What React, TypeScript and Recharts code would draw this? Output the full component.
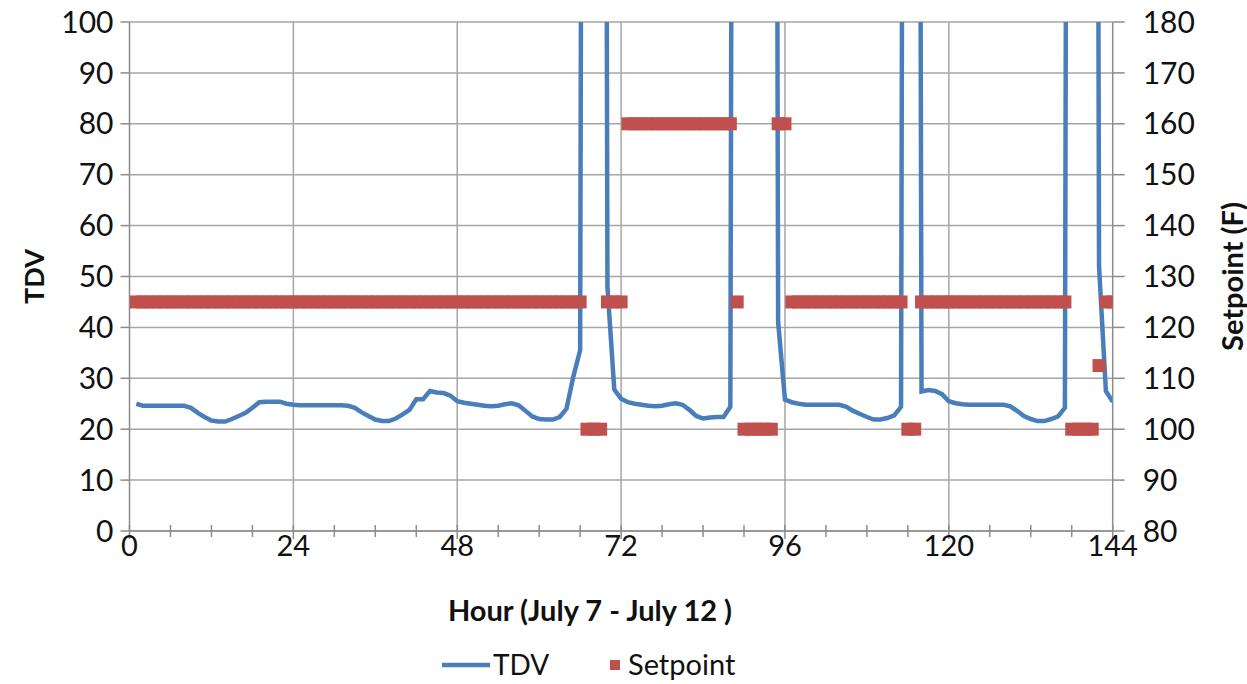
import {
  ComposedChart,
  Line,
  Scatter,
  XAxis,
  YAxis,
  CartesianGrid,
  ReferenceLine,
  Legend,
  Label,
} from 'recharts';

// hour ticks on the x axis (every 6 h, labels every 24 h)
const hourTicks = [0, 6, 12, 18, 24, 30, 36, 42, 48, 54, 60, 66, 72, 78, 84, 90, 96, 102, 108, 114, 120, 126, 132, 138, 144];
const hourGrid = [24, 48, 72, 96, 120];
const tdvTicks = [0, 10, 20, 30, 40, 50, 60, 70, 80, 90, 100];
const setpointTicks = [80, 90, 100, 110, 120, 130, 140, 150, 160, 170, 180];

// TDV, hour 1..144 (spikes go far off the top of the chart)
const tdv = [
  25.0, 24.6, 24.6, 24.6, 24.6, 24.6, 24.6, 24.6, 24.2, 23.2, 22.4, 21.7,
  21.5, 21.5, 22.0, 22.6, 23.2, 24.2, 25.3, 25.4, 25.4, 25.4, 25.0, 24.8,
  24.7, 24.7, 24.7, 24.7, 24.7, 24.7, 24.7, 24.6, 24.2, 23.3, 22.6, 21.9,
  21.6, 21.6, 22.1, 22.9, 23.8, 25.9, 25.9, 27.5, 27.2, 27.1, 26.6, 25.5,
  25.2, 25.0, 24.8, 24.6, 24.5, 24.6, 24.9, 25.1, 24.7, 23.6, 22.5, 22.0,
  21.9, 21.9, 22.4, 24.0, 30.3, 35.5, 600, 600, 600, 48.0, 27.8, 26.0,
  25.3, 25.0, 24.8, 24.6, 24.5, 24.6, 24.9, 25.1, 24.8, 23.8, 22.6, 22.1,
  22.3, 22.4, 22.4, 24.4, 600, 600, 600, 600, 600, 600, 41.0, 25.8,
  25.3, 25.0, 24.8, 24.8, 24.8, 24.8, 24.8, 24.8, 24.4, 23.6, 23.0, 22.4,
  21.9, 21.9, 22.2, 22.7, 24.4, 600, 600, 27.4, 27.7, 27.5, 26.9, 25.5,
  25.1, 24.9, 24.8, 24.8, 24.8, 24.8, 24.8, 24.8, 24.5, 23.6, 22.6, 22.0,
  21.6, 21.6, 22.0, 22.5, 24.2, 600, 600, 600, 600, 52.0, 27.5, 25.4,
];

// Setpoint (F), hour 1..144
const setpoint = [
  125, 125, 125, 125, 125, 125, 125, 125, 125, 125, 125, 125,
  125, 125, 125, 125, 125, 125, 125, 125, 125, 125, 125, 125,
  125, 125, 125, 125, 125, 125, 125, 125, 125, 125, 125, 125,
  125, 125, 125, 125, 125, 125, 125, 125, 125, 125, 125, 125,
  125, 125, 125, 125, 125, 125, 125, 125, 125, 125, 125, 125,
  125, 125, 125, 125, 125, 125, 100, 100, 100, 125, 125, 125,
  160, 160, 160, 160, 160, 160, 160, 160, 160, 160, 160, 160,
  160, 160, 160, 160, 125, 100, 100, 100, 100, 100, 160, 160,
  125, 125, 125, 125, 125, 125, 125, 125, 125, 125, 125, 125,
  125, 125, 125, 125, 125, 100, 100, 125, 125, 125, 125, 125,
  125, 125, 125, 125, 125, 125, 125, 125, 125, 125, 125, 125,
  125, 125, 125, 125, 125, 100, 100, 100, 100, 112.5, 125, 125,
];

const tdvData = tdv.map((v, i) => ({ hour: i + 1, tdv: v }));
const setpointData = setpoint.map((v, i) => ({ hour: i + 1, setpoint: v }));

const BLUE = '#4A7EBB';
const RED = '#C0504D';
const GRID = '#a6a6a6';
const AXIS = '#8c8c8c';
const INK = '#111';
const FONT = 'Lato, sans-serif';
const W = 1247;
const H = 684;

function HourTick(props: any) {
  const { x, y, payload } = props;
  const major = payload.value % 24 === 0;
  return (
    <g>
      <line x1={x} x2={x} y1={y - 6} y2={y + (major ? 8 : 6)} stroke={AXIS} strokeWidth={1.5} />
      {major && (
        <text x={x} y={y + 25} textAnchor="middle" fontSize={29} fill={INK} fontFamily={FONT}>
          {payload.value}
        </text>
      )}
    </g>
  );
}

function Square(props: any) {
  const { cx, cy } = props;
  if (cx == null || cy == null) return null;
  return <rect x={cx - 6.5} y={cy - 6.5} width={13} height={13} fill={RED} />;
}

function LegendRow() {
  return (
    <svg width={W} height={40} style={{ display: 'block' }}>
      <line x1={442} x2={490} y1={20} y2={20} stroke={BLUE} strokeWidth={4.5} />
      <text x={493} y={30} fontSize={28} fill={INK} fontFamily={FONT}>TDV</text>
      <rect x={610} y={15} width={10} height={10} fill={RED} />
      <text x={628} y={30} fontSize={29} fill={INK} fontFamily={FONT}>Setpoint</text>
    </svg>
  );
}

export default function App() {
  return (
    <div style={{ position: 'absolute', top: 0, left: 0, fontFamily: FONT }}>
      <ComposedChart
        width={W}
        height={H}
        margin={{ top: 22, right: 0, bottom: 0, left: 0 }}
        style={{ fontFamily: FONT }}
      >
        <CartesianGrid yAxisId="left" vertical={false} stroke={GRID} strokeWidth={1.5} />
        {hourGrid.map((h) => (
          <ReferenceLine key={h} x={h} yAxisId="left" stroke={GRID} strokeWidth={1.5} />
        ))}
        <XAxis
          type="number"
          dataKey="hour"
          domain={[0, 144]}
          ticks={hourTicks}
          interval={0}
          allowDataOverflow
          tickSize={0}
          tickMargin={0}
          tickLine={false}
          axisLine={{ stroke: AXIS, strokeWidth: 1.5 }}
          height={153}
          tick={<HourTick />}
        >
          <Label
            content={(p: any) => {
              const vb = p.viewBox;
              return (
                <text
                  x={590}
                  y={vb.y + 90}
                  textAnchor="middle"
                  fontSize={29}
                  fontWeight="bold"
                  fill={INK}
                  fontFamily={FONT}
                >
                  Hour (July 7 - July 12 )
                </text>
              );
            }}
          />
        </XAxis>
        <YAxis
          yAxisId="left"
          domain={[0, 100]}
          ticks={tdvTicks}
          interval={0}
          allowDataOverflow
          width={129.5}
          tickSize={9}
          tickMargin={7}
          tickLine={{ stroke: AXIS, strokeWidth: 1.5 }}
          axisLine={{ stroke: AXIS, strokeWidth: 1.5 }}
          tick={{ fontSize: 30, fill: INK, fontFamily: FONT }}
        >
          <Label
            content={(p: any) => {
              const vb = p.viewBox;
              const cy = vb.y + vb.height / 2;
              return (
                <text
                  x={33}
                  y={cy}
                  transform={`rotate(-90, 33, ${cy})`}
                  textAnchor="middle"
                  dominantBaseline="central"
                  fontSize={27}
                  fontWeight="bold"
                  fill={INK}
                  fontFamily={FONT}
                >
                  TDV
                </text>
              );
            }}
          />
        </YAxis>
        <YAxis
          yAxisId="right"
          orientation="right"
          domain={[80, 180]}
          ticks={setpointTicks}
          interval={0}
          allowDataOverflow
          width={134.3}
          tickSize={12}
          tickMargin={18}
          tickLine={{ stroke: AXIS, strokeWidth: 1.5 }}
          axisLine={{ stroke: AXIS, strokeWidth: 1.5 }}
          tick={{ fontSize: 30, fill: INK, fontFamily: FONT }}
        >
          <Label
            content={(p: any) => {
              const vb = p.viewBox;
              const cy = vb.y + vb.height / 2;
              const cx = 1231;
              return (
                <text
                  x={cx}
                  y={cy}
                  transform={`rotate(-90, ${cx}, ${cy})`}
                  textAnchor="middle"
                  dominantBaseline="central"
                  fontSize={29}
                  fontWeight="bold"
                  fill={INK}
                  fontFamily={FONT}
                >
                  Setpoint (F)
                </text>
              );
            }}
          />
        </YAxis>
        <Scatter
          yAxisId="right"
          name="Setpoint"
          data={setpointData}
          dataKey="setpoint"
          fill={RED}
          shape={Square}
          isAnimationActive={false}
        />
        <Line
          yAxisId="left"
          name="TDV"
          data={tdvData}
          dataKey="tdv"
          type="linear"
          stroke={BLUE}
          strokeWidth={4.5}
          dot={false}
          activeDot={false}
          isAnimationActive={false}
        />
        <Legend
          layout="horizontal"
          verticalAlign="middle"
          align="center"
          wrapperStyle={{ top: 645, left: 0, width: W, height: 40 }}
          content={() => <LegendRow />}
        />
      </ComposedChart>
    </div>
  );
}
